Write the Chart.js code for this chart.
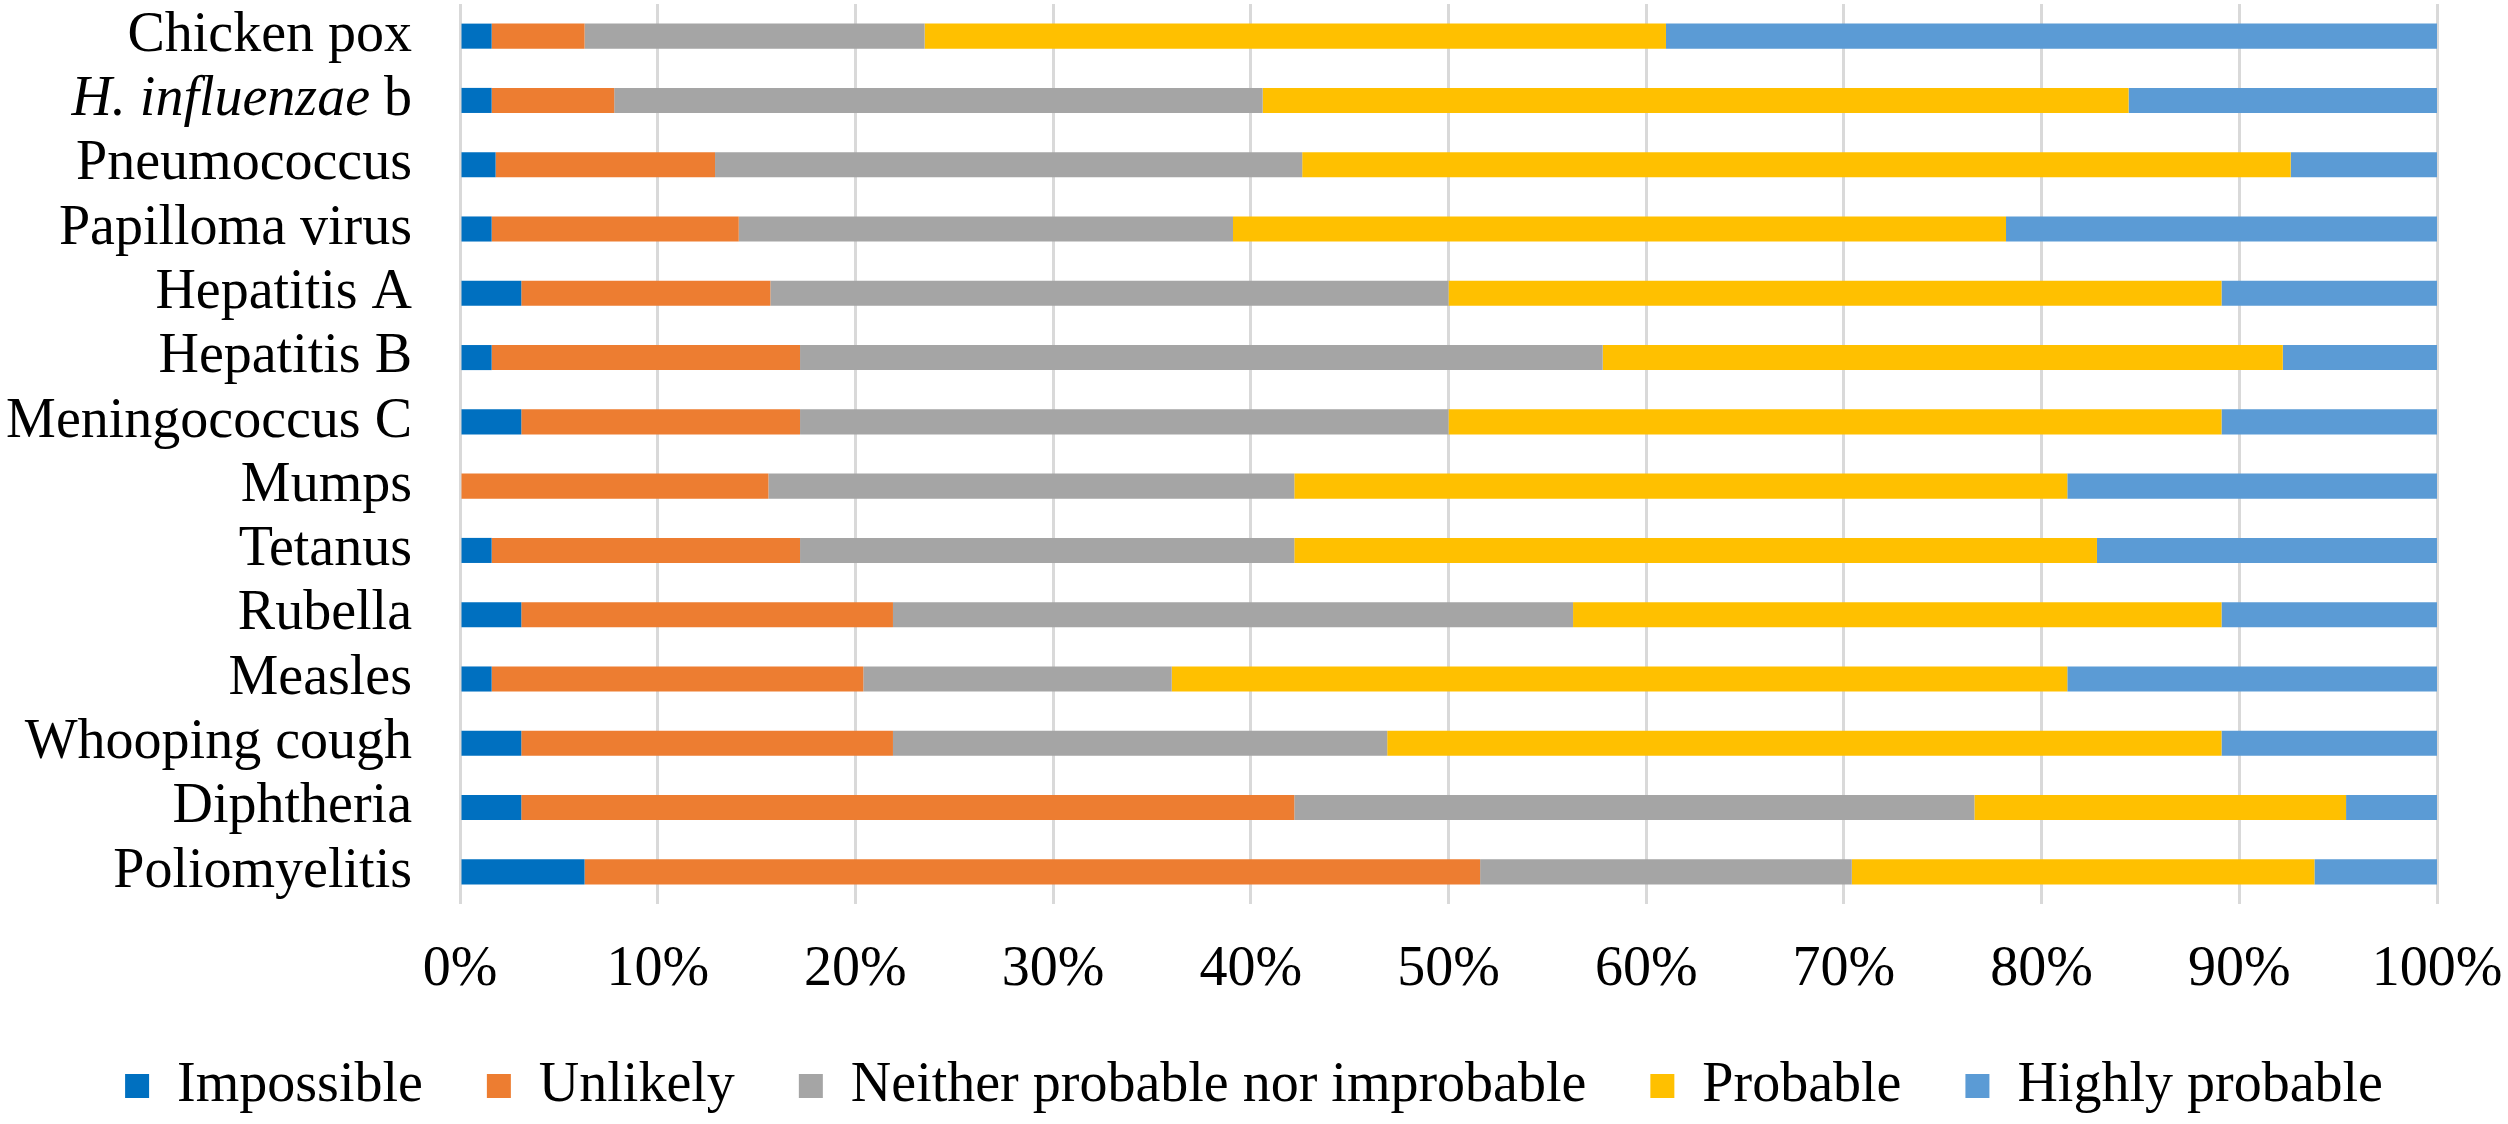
<!DOCTYPE html>
<html>
<head>
<meta charset="utf-8">
<script src="https://cdn.jsdelivr.net/npm/chart.js@4/dist/chart.umd.min.js"></script>
<style>
  body { margin: 0; background: #fff; }
  #wrap { width: 2508px; height: 1124px; }
</style>
</head>
<body>
<div id="wrap"><canvas id="myChart"></canvas></div>
<script>
// categories, top to bottom
const vaccines = ["Chicken pox", "H. influenzae b", "Pneumococcus", "Papilloma virus", "Hepatitis A",
  "Hepatitis B", "Meningococcus C", "Mumps", "Tetanus", "Rubella", "Measles", "Whooping cough",
  "Diphtheria", "Poliomyelitis"];

// answers in % of respondents
const impossible = [1.6, 1.6, 1.8, 1.6, 3.1, 1.6, 3.1, 0, 1.6, 3.1, 1.6, 3.1, 3.1, 6.3];
const unlikely   = [4.7, 6.2, 11.1, 12.5, 12.6, 15.6, 14.1, 15.6, 15.6, 18.8, 18.8, 18.8, 39.1, 45.3];
const neither    = [17.2, 32.8, 29.7, 25.0, 34.3, 40.6, 32.8, 26.6, 25.0, 34.4, 15.6, 25.0, 34.4, 18.8];
const probable   = [37.5, 43.8, 50.0, 39.1, 39.1, 34.4, 39.1, 39.1, 40.6, 32.8, 45.3, 42.2, 18.8, 23.4];
const highly     = [39.0, 15.6, 7.4, 21.8, 10.9, 7.8, 10.9, 18.7, 17.2, 10.9, 18.7, 10.9, 4.6, 6.2];

// x axis ticks
const xTicks = [0, 10, 20, 30, 40, 50, 60, 70, 80, 90, 100];

const serif = "'Liberation Serif', 'Times New Roman', serif";
const italicIdx = 1;

// H. influenzae b : italic genus name + normal "b"
const italicLabel = {
  id: "italicLabel",
  afterDraw(chart) {
    const sc = chart.scales.y;
    const ctx = chart.ctx;
    const y = sc.getPixelForTick(italicIdx);
    const x = sc.right - 48;
    ctx.save();
    ctx.fillStyle = "#000";
    ctx.textAlign = "right";
    ctx.textBaseline = "middle";
    ctx.font = "56px " + serif;
    const tail = " b";
    const w = ctx.measureText(tail).width;
    ctx.fillText(tail, x, y);
    ctx.font = "italic 56px " + serif;
    ctx.fillText("H. influenzae", x - w, y);
    ctx.restore();
  }
};

function ds(label, data, color) {
  return {
    label: label,
    data: data,
    backgroundColor: color,
    borderWidth: 0,
    barPercentage: 0.39,
    categoryPercentage: 1.0
  };
}

// チャートの描画
const ctx = document.getElementById("myChart").getContext("2d");
const chart = new Chart(ctx, {
  type: "bar",
  data: {
    labels: vaccines,
    datasets: [
      ds("Impossible", impossible, "#0070C0"),
      ds("Unlikely", unlikely, "#ED7D31"),
      ds("Neither probable nor improbable", neither, "#A5A5A5"),
      ds("Probable", probable, "#FFC000"),
      ds("Highly probable", highly, "#5B9BD5")
    ]
  },
  plugins: [italicLabel],
  options: {
    indexAxis: "y",
    responsive: true,
    maintainAspectRatio: false,
    devicePixelRatio: 1,
    animation: false,
    layout: { padding: { left: 4, right: 4, top: 4, bottom: 0 } },
    plugins: {
      tooltip: { enabled: false },
      legend: {
        position: "bottom",
        labels: {
          color: "#000",
          font: { family: serif, size: 56 },
          boxWidth: 24,
          boxHeight: 24,
          padding: 64
        }
      }
    },
    scales: {
      x: {
        stacked: true,
        min: 0,
        max: 100,
        afterBuildTicks: function (s) { s.ticks = xTicks.map(v => ({ value: v })); },
        afterFit: function (s) { s.height = 90; s.paddingRight = 71; s.paddingLeft = 0; },
        grid: { color: "#d9d9d9", lineWidth: 3, drawTicks: false },
        border: { display: false },
        ticks: {
          color: "#000",
          padding: 42,
          font: { family: serif, size: 56, lineHeight: 0.857 },
          maxRotation: 0,
          callback: v => v + "%"
        }
      },
      y: {
        stacked: true,
        afterFit: function (s) { s.width = 456; s.paddingTop = 0; s.paddingBottom = 0; },
        grid: { display: false, drawTicks: false },
        border: { display: false },
        ticks: {
          padding: 48,
          autoSkip: false,
          font: { family: serif, size: 56 },
          color: c => (c.index === italicIdx ? "rgba(0,0,0,0)" : "#000")
        }
      }
    }
  }
});
</script>
</body>
</html>
